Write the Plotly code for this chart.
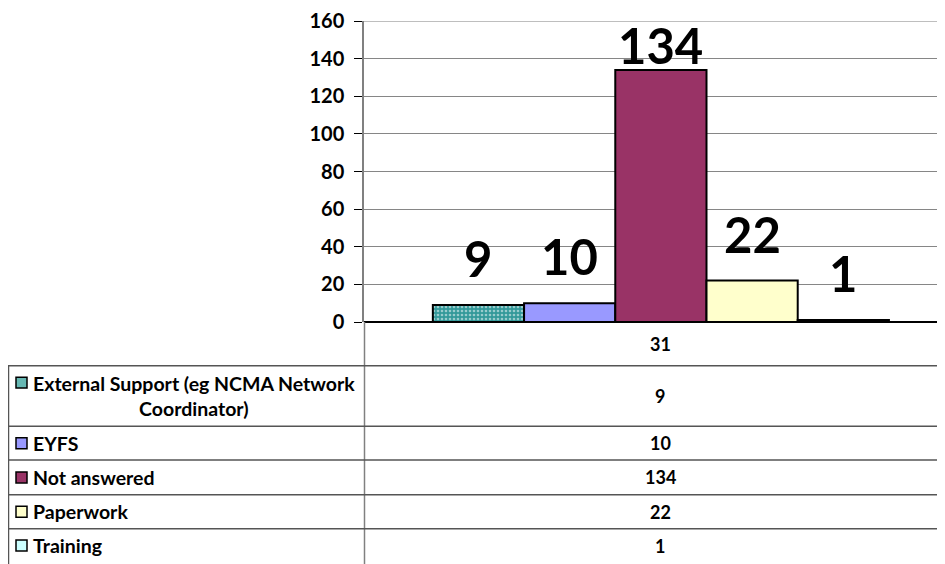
import plotly.graph_objects as go

# ---- data ----
categories = ["31"]
series_names = ["External Support (eg NCMA Network Coordinator)", "EYFS", "Not answered", "Paperwork", "Training"]
series_values = [9, 10, 134, 22, 1]
table_labels = ["External Support (eg NCMA Network<br>Coordinator)", "EYFS", "Not answered", "Paperwork", "Training"]
y_tick_values = [0, 20, 40, 60, 80, 100, 120, 140, 160]

# ---- styling ----
colors = ["#33999a", "#9999ff", "#993366", "#ffffcc", "#ccffff"]
swatch_colors = ["#66b8b3", "#9999ff", "#993366", "#ffffcc", "#ccffff"]
FONT = "Lato"

OFF = 8  # page body margin
W, H = 945 - OFF, 564 - OFF
# plot area in reference (window) px
RL, RR, RT, RB = 364, 945, 19, 322
L, R, T, B = RL - OFF, RR - OFF, RT - OFF, RB - OFF
YMAX = 160
BARGAP = 0.215
XR = [-0.511, 0.489]


def px(x):
    return (x - RL) / (RR - RL)


def py(y):
    return (RB - y) / (RB - RT)


fig = go.Figure()
for i, (name, v) in enumerate(zip(series_names, series_values)):
    marker = dict(color=colors[i], line=dict(color="black", width=2))
    if i == 0:
        marker["pattern"] = dict(shape=".", bgcolor="#33999a", fgcolor="white",
                                 size=4, solidity=0.35)
    fig.add_trace(go.Bar(x=categories, y=[v], name=name, marker=marker,
                         showlegend=False, hoverinfo="skip"))

annotations = []
shapes = []

# data labels above bars
n = len(series_values)
w = (1 - BARGAP) / n
for i, v in enumerate(series_values):
    xc = -(1 - BARGAP) / 2 + w * (i + 0.5)
    ylab = min(v + 23.3, YMAX - 14.3)
    annotations.append(dict(x=xc, y=ylab, xref="x", yref="y", text=str(v),
                            showarrow=False, yanchor="middle", xanchor="center",
                            yshift=3,
                            font=dict(family=FONT, size=49, color="black", weight="bold")))

# ---- data table ----
line_col = "#555555"
row_edges = [366, 427, 461, 496, 530, 564]
shapes.append(dict(type="line", xref="paper", yref="paper", x0=px(364.5), x1=px(364.5),
                   y0=py(322), y1=py(566), line=dict(color="#808080", width=1.5)))
shapes.append(dict(type="line", xref="paper", yref="paper", x0=px(8.5), x1=px(8.5),
                   y0=py(366), y1=py(566), line=dict(color=line_col, width=1.5)))
for ye in row_edges[:-1]:
    shapes.append(dict(type="line", xref="paper", yref="paper", x0=px(8), x1=px(946),
                       y0=py(ye), y1=py(ye), line=dict(color=line_col, width=1.5)))
# top gridline (160)
shapes.append(dict(type="line", xref="paper", yref="y", x0=0, x1=1,
                   y0=y_tick_values[-1], y1=y_tick_values[-1],
                   line=dict(color="#868686", width=1)))

annotations.append(dict(x=px(660), y=py(344), xref="paper", yref="paper", text=categories[0],
                        showarrow=False, xanchor="center", yanchor="middle",
                        font=dict(family=FONT, size=18, color="black", weight="bold")))

row_centers = [(row_edges[k] + row_edges[k + 1]) / 2 for k in range(5)]
for k, (lab, v) in enumerate(zip(table_labels, series_values)):
    yc = row_centers[k]
    sw_y = yc if k > 0 else 383
    shapes.append(dict(type="rect", xref="paper", yref="paper",
                       x0=px(16), x1=px(27), y0=py(sw_y - 5.5), y1=py(sw_y + 5.5),
                       fillcolor=swatch_colors[k], line=dict(color="black", width=1.5)))
    annotations.append(dict(x=px(31), y=py(yc), xref="paper", yref="paper", text=lab,
                            showarrow=False, xanchor="left", yanchor="middle", align="center",
                            font=dict(family=FONT, size=19.5, color="black", weight="bold")))
    annotations.append(dict(x=px(660), y=py(yc), xref="paper", yref="paper", text=str(v),
                            showarrow=False, xanchor="center", yanchor="middle",
                            font=dict(family=FONT, size=18, color="black", weight="bold")))

fig.update_layout(
    width=W, height=H,
    margin=dict(l=L, r=W - R, t=T, b=H - B, pad=0),
    paper_bgcolor="white", plot_bgcolor="white",
    barmode="group", bargap=BARGAP, bargroupgap=0,
    annotations=annotations, shapes=shapes,
    xaxis=dict(range=XR, showticklabels=False, showgrid=False, zeroline=False,
               showline=False, ticks=""),
    yaxis=dict(range=[0, YMAX + 0.02], tickvals=y_tick_values, showgrid=True,
               gridcolor="#868686", gridwidth=1, ticks="outside", ticklen=8,
               tickcolor="black", tickwidth=1, showline=True, linecolor="#808080",
               linewidth=1.5, zeroline=True, zerolinecolor="black", zerolinewidth=1.5,
               ticklabelstandoff=6, ticklabeloverflow="allow",
               tickfont=dict(family=FONT, size=20, color="black", weight="bold")),
)

fig.write_html("out.html")
